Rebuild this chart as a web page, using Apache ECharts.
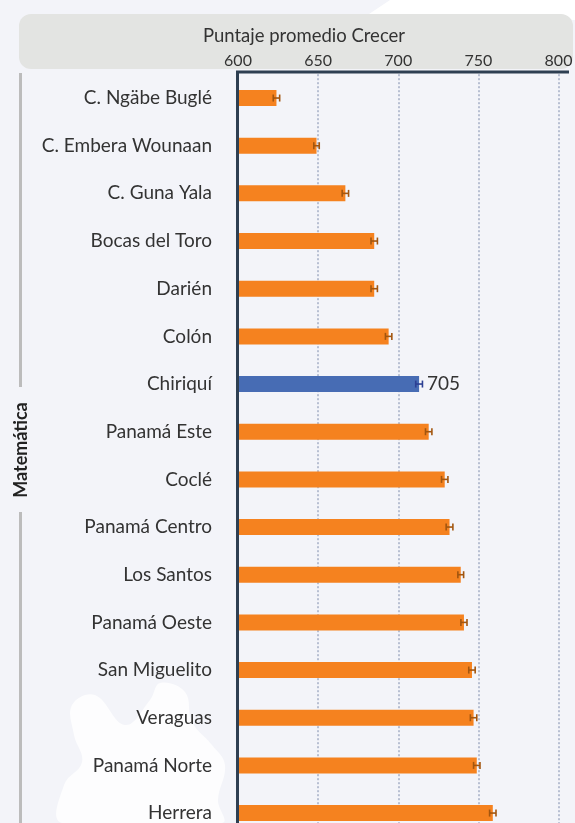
<!DOCTYPE html>
<html>
<head>
<meta charset="utf-8">
<script src="https://cdn.jsdelivr.net/npm/echarts@6/dist/echarts.min.js"></script>
<style>
  html, body { margin: 0; padding: 0; background: #f3f4f9; }
  #chart { width: 575px; height: 823px; }
</style>
</head>
<body>
<div id="chart"></div>
<script>
// datos
var regiones = ['C. Ngäbe Buglé', 'C. Embera Wounaan', 'C. Guna Yala', 'Bocas del Toro', 'Darién', 'Colón',
  'Chiriquí', 'Panamá Este', 'Coclé', 'Panamá Centro', 'Los Santos', 'Panamá Oeste',
  'San Miguelito', 'Veraguas', 'Panamá Norte', 'Herrera'];
var puntajes = [624, 649, 667, 685, 685, 694, 713, 719, 729, 732, 739, 741, 746, 747, 749, 759];
var errores = [2, 1.7, 2, 2, 2, 2, 2.1, 2, 2, 2.1, 1.8, 1.9, 2, 2, 2, 2];
var resaltada = 'Chiriquí';
var etiquetaResaltada = '705';
var ticks = [600, 650, 700, 750, 800];

var naranja = '#f5821f', naranjaOsc = '#a3560f';
var azul = '#476cb4', azulOsc = '#2c3f93';
var fuente = 'Lato, "Noto Sans", sans-serif';

var barras = puntajes.map(function (v, i) {
  var item = { value: v, itemStyle: { color: regiones[i] === resaltada ? azul : naranja } };
  if (regiones[i] === resaltada) {
    item.label = {
      show: true, position: 'right', distance: 8,
      formatter: etiquetaResaltada, fontSize: 19, color: '#333', fontFamily: fuente
    };
  }
  return item;
});
var intervalos = puntajes.map(function (v, i) {
  return [i, v - errores[i], v + errores[i]];
});

var chart = echarts.init(document.getElementById('chart'));
chart.setOption({
  backgroundColor: '#f3f4f9',
  animation: false,
  title: {
    text: 'Puntaje promedio Crecer',
    left: 299, top: 22, textAlign: 'center',
    textStyle: { fontSize: 18.5, fontWeight: 'normal', color: '#333', fontFamily: fuente }
  },
  grid: { left: 238, right: 16.5, top: 74.2, height: 762.7, outerBoundsMode: 'none' },
  xAxis: {
    type: 'value', position: 'top',
    min: ticks[0], max: ticks[ticks.length - 1], interval: 50,
    axisLine: { show: false }, axisTick: { show: false },
    axisLabel: { fontSize: 16, color: '#333', margin: 5, fontFamily: fuente },
    splitLine: { lineStyle: { color: '#b7bfd2', width: 2, type: [2, 2] } }
  },
  yAxis: {
    type: 'category', data: regiones, inverse: true,
    axisLine: { show: false }, axisTick: { show: false },
    axisLabel: { fontSize: 19, color: '#333', margin: 26, fontFamily: fuente }
  },
  graphic: [
    // manchas blancas de fondo
    { type: 'polygon', z: -10, silent: true,
      shape: { points: [[390, 0], [575, 0], [575, 20], [360, 20]] },
      style: { fill: '#ffffff' } },
    { type: 'polygon', z: -10, silent: true,
      shape: { points: [[72, 705], [95, 695], [125, 725], [150, 700], [160, 683], [185, 692], [192, 722],
        [212, 745], [225, 765], [218, 800], [222, 823], [62, 823], [64, 785], [82, 762], [74, 735]], smooth: 0.4 },
      style: { fill: '#ffffff', opacity: 0.8 } },
    // encabezado
    { type: 'rect', z: -5, silent: true,
      shape: { x: 19, y: 14, width: 554, height: 55, r: 12 },
      style: { fill: '#e3e4e2' } },
    // ejes
    { type: 'line', z: 100, silent: true,
      shape: { x1: 236, y1: 72, x2: 569, y2: 72 },
      style: { stroke: '#2e3f52', lineWidth: 3 } },
    { type: 'line', z: 100, silent: true,
      shape: { x1: 237.5, y1: 71, x2: 237.5, y2: 823 },
      style: { stroke: '#2e3f52', lineWidth: 3 } },
    // corchete izquierdo
    { type: 'line', silent: true,
      shape: { x1: 20.5, y1: 73, x2: 20.5, y2: 387 },
      style: { stroke: '#bcbcbc', lineWidth: 3 } },
    { type: 'line', silent: true,
      shape: { x1: 20.5, y1: 512, x2: 20.5, y2: 823 },
      style: { stroke: '#bcbcbc', lineWidth: 3 } },
    { type: 'text', silent: true, x: 21, y: 450, rotation: Math.PI / 2,
      style: { text: 'Matemática', fill: '#222', fontSize: 18, fontWeight: 'bold',
        fontFamily: fuente, align: 'center', verticalAlign: 'middle' } }
  ],
  series: [
    {
      type: 'bar', data: barras, barWidth: 16, z: 2
    },
    {
      type: 'custom', z: 5,
      data: intervalos,
      encode: { x: [1, 2], y: 0 },
      renderItem: function (params, api) {
        var i = api.value(0);
        var p1 = api.coord([api.value(1), i]);
        var p2 = api.coord([api.value(2), i]);
        var c = regiones[i] === resaltada ? azulOsc : naranjaOsc;
        var h = 3.5;
        var st = { stroke: c, lineWidth: 1.6 };
        return {
          type: 'group',
          children: [
            { type: 'line', shape: { x1: p1[0], y1: p1[1], x2: p2[0], y2: p2[1] }, style: st },
            { type: 'line', shape: { x1: p1[0], y1: p1[1] - h, x2: p1[0], y2: p1[1] + h }, style: st },
            { type: 'line', shape: { x1: p2[0], y1: p2[1] - h, x2: p2[0], y2: p2[1] + h }, style: st }
          ]
        };
      }
    }
  ]
});
</script>
</body>
</html>
